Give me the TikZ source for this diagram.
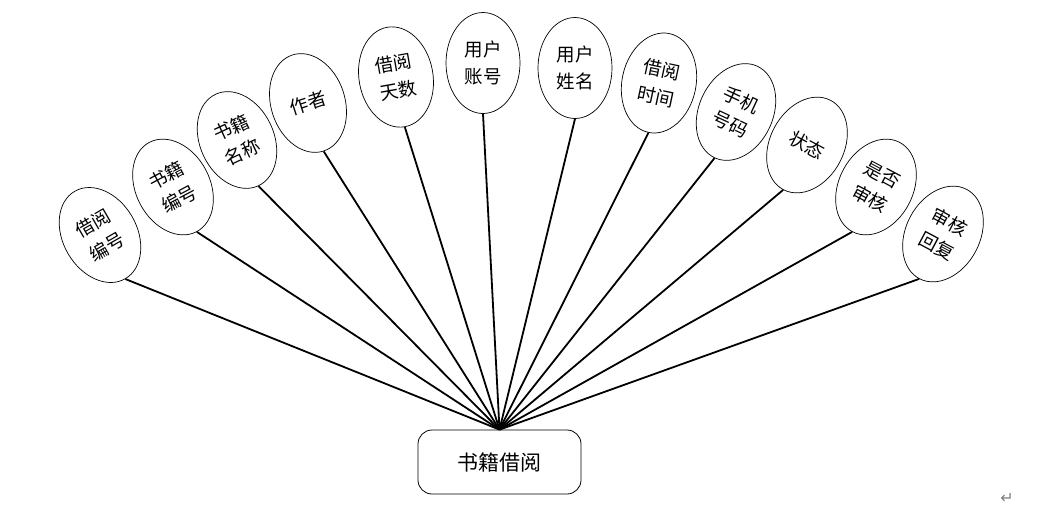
\documentclass[tikz,border=0pt]{standalone}
\usepackage{fontspec}
\newfontfamily\cjk{Noto Sans CJK SC}
\newfontfamily\dejavu{DejaVu Sans}
\usetikzlibrary{shapes.geometric}
\begin{document}
\begin{tikzpicture}[x=1pt,y=-1pt,
  attr/.style={ellipse,draw,line width=0.7pt,minimum width=74pt,minimum height=101pt,inner sep=0pt,align=center,font=\cjk\fontsize{18.5}{27}\selectfont},
  hubbox/.style={rectangle,rounded corners=14pt,draw,line width=0.8pt,minimum width=163pt,minimum height=64pt,font=\cjk\fontsize{21}{24}\selectfont},
  link/.style={line width=1.8pt}]
\useasboundingbox (0,0) rectangle (1037,512);
\node[hubbox] (hub) at (499.5,462) {书籍借阅};
\node[attr,rotate=30]  (a1)  at (100,235) {借阅\\编号};
\node[attr,rotate=28]  (a2)  at (173,187) {书籍\\编号};
\node[attr,rotate=25]  (a3)  at (237,140) {书籍\\名称};
\node[attr,rotate=18]  (a4)  at (308,103) {作者};
\node[attr,rotate=10]  (a5)  at (396,77)  {借阅\\天数};
\node[attr,rotate=0]   (a6)  at (483,63)  {用户\\账号};
\node[attr,rotate=0]   (a7)  at (575,68)  {用户\\姓名};
\node[attr,rotate=-12] (a8)  at (659,83)  {借阅\\时间};
\node[attr,rotate=-25] (a9)  at (736,112) {手机\\号码};
\node[attr,rotate=-28] (a10) at (807,145) {状态};
\node[attr,rotate=-28] (a11) at (876,187) {是否\\审核};
\node[attr,rotate=-28] (a12) at (943,234) {审核\\回复};
\foreach \i in {1,...,12} {\draw[link] (hub.north) -- (a\i.south);}
\node[text=gray,font=\dejavu\fontsize{16}{16}\selectfont] (pm) at (1007,498) {↵};
\end{tikzpicture}
\end{document}
